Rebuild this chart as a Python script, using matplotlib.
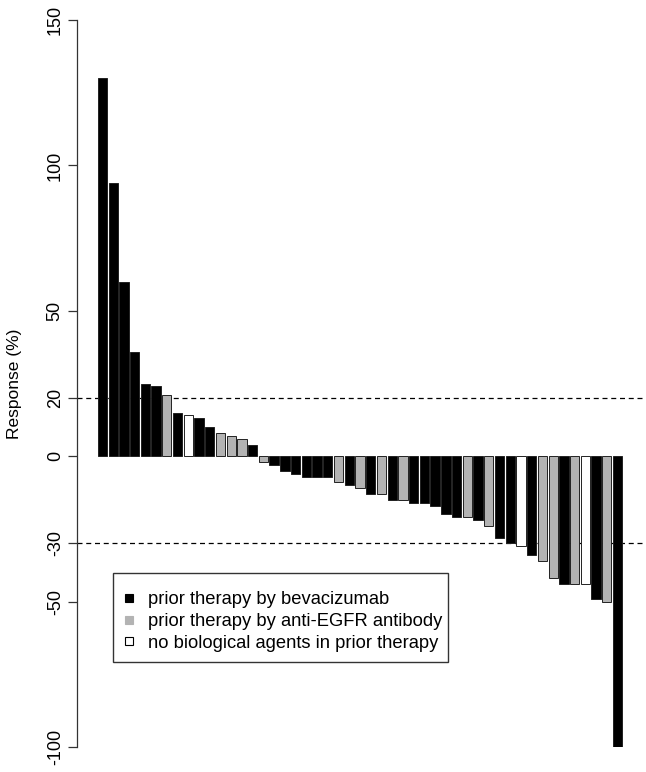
import numpy as np
import matplotlib.pyplot as plt
from matplotlib.lines import Line2D
from matplotlib.patches import Rectangle

# response per patient, sorted (waterfall)
response = [130, 94, 60, 36, 25, 24, 21, 15, 14, 13, 10, 8, 7, 6, 4,
            -2, -3, -5, -6, -7, -7, -7, -9, -10, -11, -13, -13, -15, -15,
            -16, -16, -17, -20, -21, -21, -22, -24, -28, -30, -31, -34,
            -36, -42, -44, -44, -44, -49, -50, -100]
# prior therapy group: B = bevacizumab, E = anti-EGFR, N = none
group = ['B', 'B', 'B', 'B', 'B', 'B', 'E', 'B', 'N', 'B', 'B', 'E', 'E', 'E', 'B',
         'E', 'B', 'B', 'B', 'B', 'B', 'B', 'E', 'B', 'E', 'B', 'E', 'B', 'E',
         'B', 'B', 'B', 'B', 'B', 'E', 'B', 'E', 'B', 'B', 'N', 'B',
         'E', 'E', 'B', 'E', 'N', 'B', 'E', 'B']
group_colors = {'B': 'black', 'E': '#b3b3b3', 'N': 'white'}
legend_labels = ['prior therapy by bevacizumab',
                 'prior therapy by anti-EGFR antibody',
                 'no biological agents in prior therapy']
yticks = [-100, -50, -30, 0, 20, 50, 100, 150]
cutoffs = [20, -30]

W, H = 646, 772
fig = plt.figure(figsize=(W / 100, H / 100), dpi=100)
plt.rcParams['font.family'] = ['Liberation Sans', 'DejaVu Sans']
ax = fig.add_axes([77 / W, 1 - 747 / H, 566 / W, 727 / H])

# R barplot style positions: width 1, space 0.2
n = len(response)
xs = 0.2 + 1.2 * np.arange(n) + 0.5
cols = [group_colors[g] for g in group]
ax.bar(xs, response, width=1.04, color=cols, edgecolor='#222222', linewidth=0.7, zorder=2)

xl = (0.2 - 0.04 * 58.6, 58.8 + 0.04 * 58.6)
ax.set_xlim(xl)
ax.set_ylim(-100, 150)
for c in cutoffs:
    ax.plot(xl, [c, c], color='black', lw=0.9, ls=(0, (4, 3)), zorder=1)

for s in ['top', 'right', 'bottom']:
    ax.spines[s].set_visible(False)
ax.spines['left'].set_linewidth(0.9)
ax.spines['left'].set_color('#333333')
ax.set_xticks([])
ax.set_yticks(yticks)
ax.set_yticklabels([str(t) for t in yticks], rotation=90, va='center', fontsize=13)
ax.tick_params(axis='y', length=6.5, width=0.9, pad=3, color='#333333')
ax.set_ylabel('Response (%)', fontsize=12.5, labelpad=18)

# legend frame drawn separately, entries via legend without frame
fig.patches.append(Rectangle((113 / W, 1 - 662 / H), 335 / W, 89 / H,
                             transform=fig.transFigure, fill=False,
                             edgecolor='#333333', linewidth=1.0))
handles = [Line2D([], [], ls='none', marker='s', markersize=6,
                  markerfacecolor=group_colors[g], markeredgecolor='black' if g != 'E' else '#b3b3b3',
                  markeredgewidth=0.8)
           for g in ['B', 'E', 'N']]
leg = ax.legend(handles, legend_labels, loc='upper left',
                bbox_to_anchor=(122 / W, 1 - 591 / H), bbox_transform=fig.transFigure,
                fontsize=13.2, frameon=False, borderaxespad=0, borderpad=0,
                handlelength=0.8, handletextpad=0.6, labelspacing=0.27)

fig.savefig('out.png', dpi=100)
